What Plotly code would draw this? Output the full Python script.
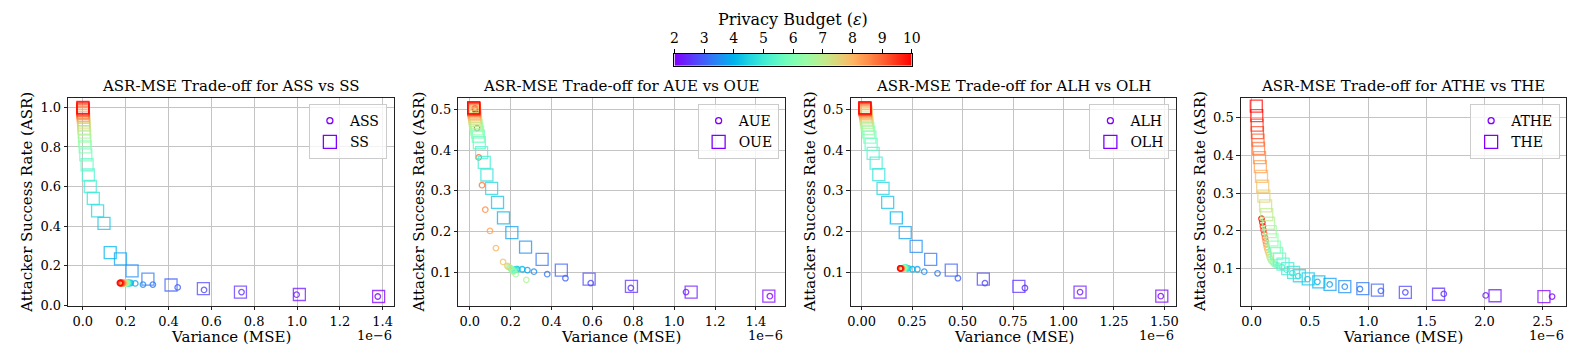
import numpy as np
import plotly.graph_objects as go

# privacy budget (epsilon) for every point
EPS = [2.0, 2.25, 2.5, 2.75, 3.0, 3.25, 3.5, 3.75, 4.0, 4.25, 4.5, 4.75, 5.0, 5.25, 5.5, 5.75,
       6.0, 6.25, 6.5, 6.75, 7.0, 7.25, 7.5, 7.75, 8.0, 8.25, 8.5, 8.75, 9.0, 9.25, 9.5, 9.75, 10.0]

# variance values are in units of 1e-6
ASS_MSE = [1.377, 0.998, 0.741, 0.566, 0.443, 0.327, 0.281, 0.245, 0.224, 0.216, 0.214, 0.212, 0.211,
           0.209, 0.208, 0.206, 0.205, 0.203, 0.201, 0.199, 0.197, 0.195, 0.193, 0.191, 0.189, 0.187,
           0.185, 0.183, 0.181, 0.179, 0.177, 0.175, 0.173]
ASS_ASR = [0.044, 0.053, 0.066, 0.077, 0.090, 0.104, 0.104, 0.110, 0.112, 0.112, 0.112, 0.112, 0.112,
           0.112, 0.112, 0.112, 0.112, 0.112, 0.112, 0.112, 0.112, 0.112, 0.112, 0.112, 0.112, 0.112,
           0.112, 0.112, 0.112, 0.112, 0.112, 0.112, 0.112]
SS_MSE = [1.381, 1.011, 0.736, 0.563, 0.412, 0.304, 0.230, 0.176, 0.128, 0.099, 0.069, 0.049, 0.035,
          0.026, 0.020, 0.014, 0.011, 0.009, 0.008, 0.007, 0.006, 0.005, 0.004, 0.0035, 0.003, 0.0025,
          0.002, 0.0017, 0.0014, 0.0012, 0.001, 0.0008, 0.0006]
SS_ASR = [0.044, 0.054, 0.066, 0.084, 0.102, 0.132, 0.173, 0.234, 0.266, 0.414, 0.477, 0.540, 0.600,
          0.658, 0.710, 0.760, 0.800, 0.830, 0.855, 0.875, 0.895, 0.910, 0.925, 0.938, 0.950, 0.960,
          0.968, 0.975, 0.982, 0.987, 0.992, 0.996, 1.000]

AUE_MSE = [1.468, 1.058, 0.788, 0.592, 0.468, 0.379, 0.314, 0.282, 0.257, 0.233, 0.228, 0.222, 0.218,
           0.214, 0.210, 0.205, 0.200, 0.196, 0.225, 0.277, 0.214, 0.190, 0.184, 0.163, 0.128, 0.099,
           0.076, 0.060, 0.044, 0.036, 0.030, 0.027, 0.025]
AUE_ASR = [0.042, 0.052, 0.062, 0.074, 0.086, 0.096, 0.102, 0.106, 0.108, 0.108, 0.108, 0.107, 0.106,
           0.105, 0.106, 0.108, 0.110, 0.112, 0.096, 0.082, 0.102, 0.114, 0.116, 0.126, 0.160, 0.202,
           0.254, 0.314, 0.382, 0.454, 0.490, 0.498, 0.502]
OUE_MSE = [1.463, 1.083, 0.791, 0.584, 0.448, 0.354, 0.273, 0.206, 0.165, 0.136, 0.107, 0.084, 0.071,
           0.058, 0.047, 0.042, 0.038, 0.034, 0.031, 0.029, 0.027, 0.026, 0.025, 0.024, 0.023, 0.022,
           0.022, 0.021, 0.021, 0.020, 0.020, 0.020, 0.019]
OUE_ASR = [0.042, 0.052, 0.066, 0.084, 0.106, 0.132, 0.162, 0.198, 0.234, 0.272, 0.306, 0.339, 0.370,
           0.394, 0.418, 0.434, 0.444, 0.452, 0.460, 0.467, 0.473, 0.478, 0.483, 0.487, 0.490, 0.493,
           0.496, 0.498, 0.500, 0.501, 0.502, 0.503, 0.504]

ALH_MSE = [1.482, 1.082, 0.809, 0.611, 0.477, 0.376, 0.310, 0.276, 0.252, 0.232, 0.224, 0.220, 0.217,
           0.215, 0.213, 0.211, 0.210, 0.208, 0.207, 0.205, 0.204, 0.203, 0.201, 0.200, 0.199, 0.198,
           0.197, 0.196, 0.195, 0.194, 0.193, 0.192, 0.191]
ALH_ASR = [0.042, 0.052, 0.062, 0.074, 0.086, 0.098, 0.102, 0.108, 0.108, 0.110, 0.111, 0.111, 0.112,
           0.112, 0.112, 0.111, 0.111, 0.111, 0.110, 0.110, 0.110, 0.110, 0.110, 0.110, 0.110, 0.110,
           0.110, 0.110, 0.110, 0.110, 0.110, 0.110, 0.110]
OLH_MSE = [1.487, 1.082, 0.779, 0.603, 0.444, 0.342, 0.270, 0.216, 0.172, 0.129, 0.106, 0.085, 0.072,
           0.057, 0.047, 0.041, 0.035, 0.031, 0.028, 0.026, 0.024, 0.023, 0.022, 0.021, 0.020, 0.019,
           0.019, 0.018, 0.018, 0.017, 0.017, 0.016, 0.016]
OLH_ASR = [0.042, 0.052, 0.066, 0.084, 0.106, 0.132, 0.164, 0.198, 0.234, 0.272, 0.306, 0.340, 0.368,
           0.392, 0.414, 0.432, 0.444, 0.453, 0.461, 0.468, 0.474, 0.479, 0.484, 0.488, 0.491, 0.494,
           0.496, 0.498, 0.500, 0.501, 0.502, 0.503, 0.504]

ATHE_MSE = [2.58, 2.01, 1.65, 1.32, 1.11, 0.93, 0.80, 0.67, 0.565, 0.48, 0.40, 0.35, 0.30, 0.26, 0.23,
            0.21, 0.195, 0.185, 0.17, 0.162, 0.155, 0.15, 0.142, 0.136, 0.13, 0.125, 0.12, 0.115, 0.108,
            0.102, 0.097, 0.092, 0.085]
ATHE_ASR = [0.026, 0.029, 0.033, 0.037, 0.041, 0.046, 0.052, 0.058, 0.065, 0.072, 0.080, 0.088, 0.097,
            0.104, 0.108, 0.110, 0.112, 0.116, 0.120, 0.125, 0.130, 0.137, 0.143, 0.150, 0.157, 0.165,
            0.173, 0.182, 0.192, 0.202, 0.212, 0.222, 0.232]
THE_MSE = [2.51, 2.09, 1.605, 1.32, 1.08, 0.955, 0.80, 0.673, 0.577, 0.486, 0.41, 0.36, 0.31, 0.27, 0.24,
           0.215, 0.195, 0.175, 0.16, 0.145, 0.13, 0.12, 0.105, 0.095, 0.085, 0.075, 0.068, 0.06, 0.055,
           0.05, 0.047, 0.044, 0.04]
THE_ASR = [0.026, 0.028, 0.032, 0.037, 0.043, 0.047, 0.052, 0.058, 0.065, 0.073, 0.081, 0.090, 0.100,
           0.112, 0.125, 0.140, 0.157, 0.176, 0.198, 0.220, 0.243, 0.266, 0.292, 0.318, 0.344, 0.370,
           0.394, 0.418, 0.440, 0.460, 0.480, 0.505, 0.530]

CB_TICKS = [2, 3, 4, 5, 6, 7, 8, 9, 10]

W, H = 1577, 353
FONT = "DejaVu Serif, Liberation Serif, serif"


def fx(p):
    return p / W


def fy(p):
    return 1 - p / H


def rainbow_scale(n=17):
    # matplotlib "rainbow" colormap
    stops = []
    for t in np.linspace(0, 1, n):
        r = min(1.0, abs(2 * t - 0.5))
        g = max(0.0, np.sin(np.pi * t))
        b = max(0.0, np.cos(np.pi * t / 2))
        stops.append([float(t), f"rgb({round(r * 255)},{round(g * 255)},{round(b * 255)})"])
    return stops


RAINBOW = rainbow_scale()
PURPLE = "rgb(128,0,255)"

panels = [
    dict(a="ASS", o="SS", ax=ASS_MSE, ay=ASS_ASR, ox=SS_MSE, oy=SS_ASR,
         xr=[-0.068, 1.452], yr=[-0.004, 1.048], xd=0.2, xf=".1f", yd=0.2,
         px=(56.7, 385.0), leg=(378.0, 98.0), ylab=15.0),
    dict(a="AUE", o="OUE", ax=AUE_MSE, ay=AUE_ASR, ox=OUE_MSE, oy=OUE_ASR,
         xr=[-0.056, 1.54], yr=[0.018, 0.528], xd=0.2, xf=".1f", yd=0.1,
         px=(450.0, 779.0), leg=(773.0, 98.0), ylab=410.0),
    dict(a="ALH", o="OLH", ax=ALH_MSE, ay=ALH_ASR, ox=OLH_MSE, oy=OLH_ASR,
         xr=[-0.054, 1.559], yr=[0.018, 0.528], xd=0.25, xf=".2f", yd=0.1,
         px=(845.7, 1174.0), leg=(1167.0, 98.0), ylab=805.0),
    dict(a="ATHE", o="THE", ax=ATHE_MSE, ay=ATHE_ASR, ox=THE_MSE, oy=THE_ASR,
         xr=[-0.093, 2.70], yr=[0.001, 0.552], xd=0.5, xf=".1f", yd=0.1,
         px=(1239.0, 1567.0), leg=(1561.0, 98.0), ylab=1198.0),
]

PLOT_TOP, PLOT_BOT = 91.7, 304.0

fig = go.Figure()
layout = dict(
    width=W, height=H, margin=dict(l=0, r=0, t=0, b=0),
    plot_bgcolor="white", paper_bgcolor="white",
    font=dict(family=FONT, size=12, color="black"),
    annotations=[],
)

axis_common = dict(
    showgrid=True, gridcolor="#c4c4c4", gridwidth=1, zeroline=False,
    showline=True, mirror=True, linecolor="#222222", linewidth=1,
    ticks="outside", ticklen=3.5, tickwidth=0.8, tickcolor="#222222",
    tickfont=dict(family=FONT, size=13, color="black"),
)

for i, p in enumerate(panels, start=1):
    sfx = "" if i == 1 else str(i)
    xa, ya = f"x{sfx}", f"y{sfx}"
    leg_name = "legend" if i == 1 else f"legend{i}"

    fig.add_trace(go.Scatter(
        x=p["ax"], y=p["ay"], mode="markers", xaxis=xa, yaxis=ya, showlegend=False,
        marker=dict(symbol="circle-open", size=5.5, color=EPS, colorscale=RAINBOW,
                    cmin=2, cmax=10, opacity=0.8, line=dict(width=1.3)),
    ))
    fig.add_trace(go.Scatter(
        x=p["ox"], y=p["oy"], mode="markers", xaxis=xa, yaxis=ya, showlegend=False,
        marker=dict(symbol="square-open", size=12, color=EPS, colorscale=RAINBOW,
                    cmin=2, cmax=10, opacity=0.75, line=dict(width=1.3)),
    ))
    # legend entries
    fig.add_trace(go.Scatter(
        x=[None], y=[None], mode="markers", xaxis=xa, yaxis=ya, name=p["a"], legend=leg_name,
        marker=dict(symbol="circle-open", size=6, color=PURPLE, line=dict(width=1.3)),
    ))
    fig.add_trace(go.Scatter(
        x=[None], y=[None], mode="markers", xaxis=xa, yaxis=ya, name=p["o"], legend=leg_name,
        marker=dict(symbol="square-open", size=13, color=PURPLE, line=dict(width=1.3)),
    ))

    layout[f"xaxis{sfx}"] = dict(
        axis_common, domain=[fx(p["px"][0]), fx(p["px"][1])], range=p["xr"], anchor=ya,
        tickmode="linear", tick0=0, dtick=p["xd"], tickformat=p["xf"],
    )
    layout[f"yaxis{sfx}"] = dict(
        axis_common, domain=[fy(PLOT_BOT), fy(PLOT_TOP)], range=p["yr"], anchor=xa,
        tickmode="linear", tick0=0, dtick=p["yd"], tickformat=".1f",
    )
    layout[leg_name] = dict(
        x=fx(p["leg"][0]), y=fy(p["leg"][1]), xanchor="right", yanchor="top",
        bgcolor="rgba(255,255,255,0.8)", bordercolor="#cccccc", borderwidth=1,
        font=dict(family=FONT, size=14), itemwidth=30, tracegroupgap=0,
    )

    cx = (p["px"][0] + p["px"][1]) / 2
    ann = layout["annotations"]
    ann.append(dict(text=f"ASR-MSE Trade-off for {p['a']} vs {p['o']}", x=fx(cx), y=fy(80),
                    xref="paper", yref="paper", showarrow=False, xanchor="center",
                    yanchor="middle", font=dict(size=15)))
    ann.append(dict(text="Variance (MSE)", x=fx(cx), y=fy(336), xref="paper", yref="paper",
                    showarrow=False, xanchor="center", yanchor="middle", font=dict(size=15)))
    ann.append(dict(text="1e\u22126", x=fx(p["px"][1]), y=fy(334), xref="paper", yref="paper",
                    showarrow=False, xanchor="right", yanchor="middle", font=dict(size=13)))
    ann.append(dict(text="Attacker Success Rate (ASR)", x=fx(p["ylab"]),
                    y=fy((PLOT_TOP + PLOT_BOT) / 2), xref="paper", yref="paper",
                    showarrow=False, textangle=-90, xanchor="center", yanchor="middle",
                    font=dict(size=15)))

# colour bar for the privacy budget
fig.add_trace(go.Heatmap(
    z=[EPS], x=EPS, y=[0], colorscale=RAINBOW, zmin=2, zmax=10, showscale=False,
    zsmooth="best", xaxis="x5", yaxis="y5", hoverinfo="skip",
))
layout["xaxis5"] = dict(
    domain=[fx(668.0), fx(907.3)], range=[2, 10], anchor="y5", side="top",
    tickmode="array", tickvals=CB_TICKS, ticks="outside", ticklen=4, tickwidth=0.8,
    tickcolor="black", showgrid=False, zeroline=False, showline=True, mirror=True,
    linecolor="black", linewidth=1, tickfont=dict(family=FONT, size=14),
)
layout["yaxis5"] = dict(
    domain=[fy(59.0), fy(46.7)], range=[-0.5, 0.5], anchor="x5", showticklabels=False,
    ticks="", showgrid=False, zeroline=False, showline=True, mirror=True,
    linecolor="black", linewidth=1,
)
layout["annotations"].append(dict(
    text="Privacy Budget (<i>\u03b5</i>)", x=fx(787.7), y=fy(12), xref="paper", yref="paper",
    showarrow=False, xanchor="center", yanchor="middle", font=dict(size=16)))

fig.update_layout(layout)
fig.write_html("out.html")
